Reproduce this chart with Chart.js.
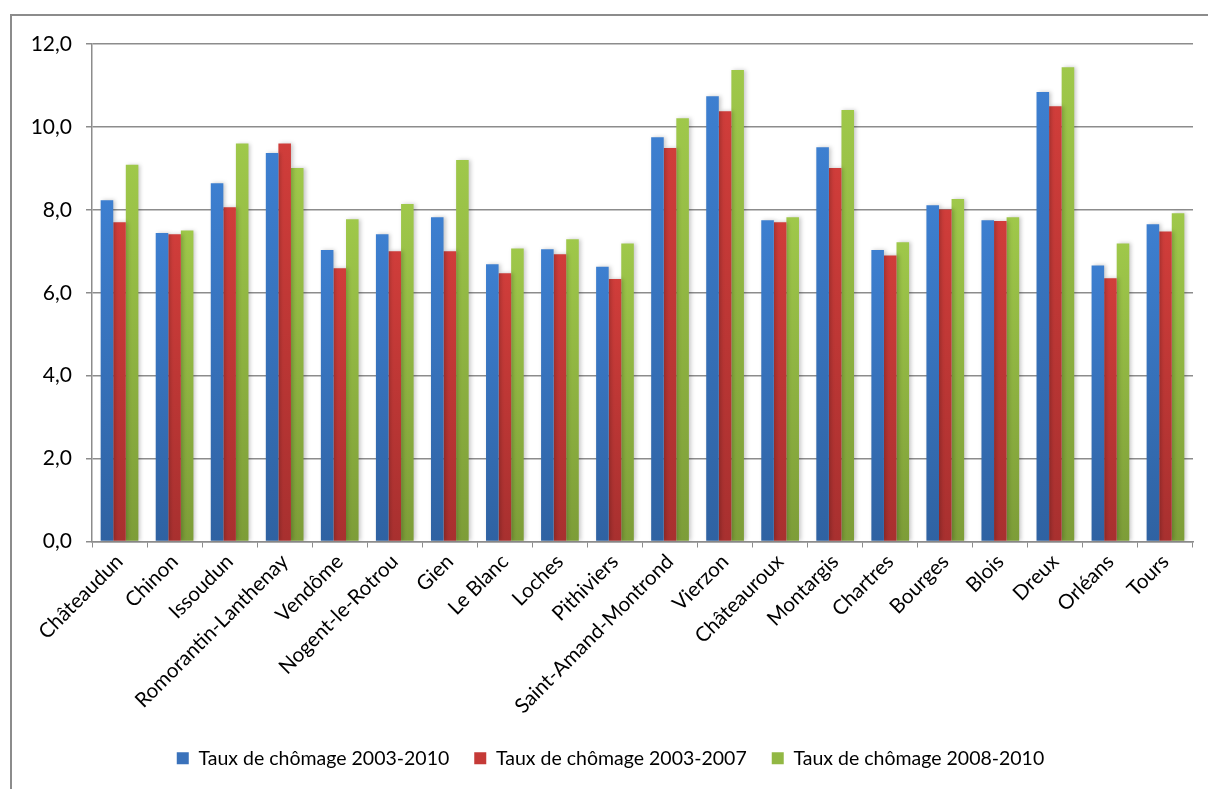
<!DOCTYPE html>
<html>
<head>
<meta charset="utf-8">
<script src="https://cdn.jsdelivr.net/npm/chart.js@4"></script>
<style>
    body { margin: 0; background: #fff; }
    #wrap { width: 1208px; height: 789px; }
</style>
</head>
<body>
<div id="wrap"><canvas id="myChart" width="1208" height="789"></canvas></div>
<script>
// Villes (zones d'emploi) de la région Centre
const villes = ['Châteaudun', 'Chinon', 'Issoudun', 'Romorantin-Lanthenay', 'Vendôme', 'Nogent-le-Rotrou',
    'Gien', 'Le Blanc', 'Loches', 'Pithiviers', 'Saint-Amand-Montrond', 'Vierzon', 'Châteauroux',
    'Montargis', 'Chartres', 'Bourges', 'Blois', 'Dreux', 'Orléans', 'Tours'];

const taux2003_2010 = [8.23, 7.44, 8.64, 9.37, 7.03, 7.41, 7.82, 6.69, 7.05, 6.63,
    9.75, 10.74, 7.75, 9.51, 7.03, 8.11, 7.75, 10.84, 6.66, 7.65];
const taux2003_2007 = [7.70, 7.41, 8.06, 9.60, 6.59, 7.00, 7.00, 6.47, 6.93, 6.33,
    9.49, 10.38, 7.70, 9.01, 6.90, 8.01, 7.73, 10.50, 6.35, 7.48];
const taux2008_2010 = [9.09, 7.50, 9.60, 9.01, 7.77, 8.14, 9.20, 7.07, 7.29, 7.19,
    10.21, 11.37, 7.82, 10.41, 7.22, 8.26, 7.82, 11.44, 7.19, 7.92];

const yTickLabels = ['0,0', '2,0', '4,0', '6,0', '8,0', '10,0', '12,0'];

const fontFamily = 'Lato, "Open Sans", sans-serif';

// Dégradé vertical sur chaque barre : clair en haut, foncé en bas
function barGradient(top, bottom) {
    return function(context) {
        const chart = context.chart;
        if (!chart.chartArea || context.type !== 'data') return top;
        const y = chart.scales.y;
        const yTop = y.getPixelForValue(context.raw);
        const yBase = y.getPixelForValue(0);
        if (!isFinite(yTop) || yTop === yBase) return top;
        const g = chart.ctx.createLinearGradient(0, yTop, 0, yBase);
        g.addColorStop(0, top);
        g.addColorStop(1, bottom);
        return g;
    };
}

const series = [
    { label: 'Taux de chômage 2003-2010', data: taux2003_2010, top: '#3d7fd0', bottom: '#2f62a2', legend: '#3a72bb' },
    { label: 'Taux de chômage 2003-2007', data: taux2003_2007, top: '#d03d3a', bottom: '#a8302f', legend: '#c53a37' },
    { label: 'Taux de chômage 2008-2010', data: taux2008_2010, top: '#9fc84a', bottom: '#7d9d38', legend: '#92b844' }
];

// Cadre extérieur et ombre portée des barres
const framePlugin = {
    id: 'frame',
    beforeDraw(chart) {
        const ctx = chart.ctx;
        ctx.save();
        ctx.fillStyle = '#fff';
        ctx.fillRect(0, 0, chart.width, chart.height);
        ctx.strokeStyle = '#8c8c8c';
        ctx.lineWidth = 2;
        ctx.strokeRect(11, 15, chart.width + 20, chart.height + 20);
        ctx.restore();
    },
    beforeDatasetsDraw(chart) {
        const ctx = chart.ctx;
        ctx.save();
        ctx.shadowColor = 'rgba(0, 0, 0, 0.22)';
        ctx.shadowBlur = 4;
        ctx.shadowOffsetX = 2;
        ctx.shadowOffsetY = 0;
    },
    afterDatasetsDraw(chart) {
        chart.ctx.restore();
    }
};

const data = {
    labels: villes,
    datasets: series.map(function(s) {
        return {
            label: s.label,
            data: s.data,
            backgroundColor: barGradient(s.top, s.bottom),
            borderWidth: 0,
            categoryPercentage: 0.685,
            barPercentage: 1.0
        };
    })
};

const config = {
    type: 'bar',
    data: data,
    plugins: [framePlugin],
    options: {
        responsive: false,
        animation: false,
        layout: { padding: { left: 28, top: 44, right: 15, bottom: 11 } },
        plugins: {
            tooltip: { enabled: false },
            legend: {
                position: 'bottom',
                labels: {
                    color: '#000',
                    font: { family: fontFamily, size: 19.5 },
                    boxWidth: 12,
                    boxHeight: 12,
                    padding: 25,
                    generateLabels: function() {
                        return series.map(function(s, i) {
                            return {
                                text: s.label,
                                fillStyle: s.legend,
                                strokeStyle: s.legend,
                                lineWidth: 0,
                                datasetIndex: i,
                                hidden: false
                            };
                        });
                    }
                }
            }
        },
        scales: {
            x: {
                grid: {
                    drawOnChartArea: false,
                    drawTicks: true,
                    tickLength: 6,
                    color: '#8c8c8c'
                },
                border: { color: '#8c8c8c', width: 1.5 },
                ticks: {
                    color: '#000',
                    font: { family: fontFamily, size: 20.5 },
                    minRotation: 45,
                    maxRotation: 45,
                    autoSkip: false,
                    padding: 2
                },
                afterFit: function(scale) { scale.height = 182; }
            },
            y: {
                min: 0,
                max: 12,
                ticks: {
                    stepSize: 2,
                    color: '#000',
                    font: { family: fontFamily, size: 21 },
                    padding: 14,
                    callback: function(value, index) { return yTickLabels[index]; }
                },
                grid: {
                    color: '#8c8c8c',
                    lineWidth: 1.5,
                    tickLength: 6
                },
                border: { color: '#8c8c8c', width: 1.5 },
                afterFit: function(scale) { scale.width = 64; }
            }
        }
    }
};

const myChart = new Chart(document.getElementById('myChart'), config);
</script>
</body>
</html>
